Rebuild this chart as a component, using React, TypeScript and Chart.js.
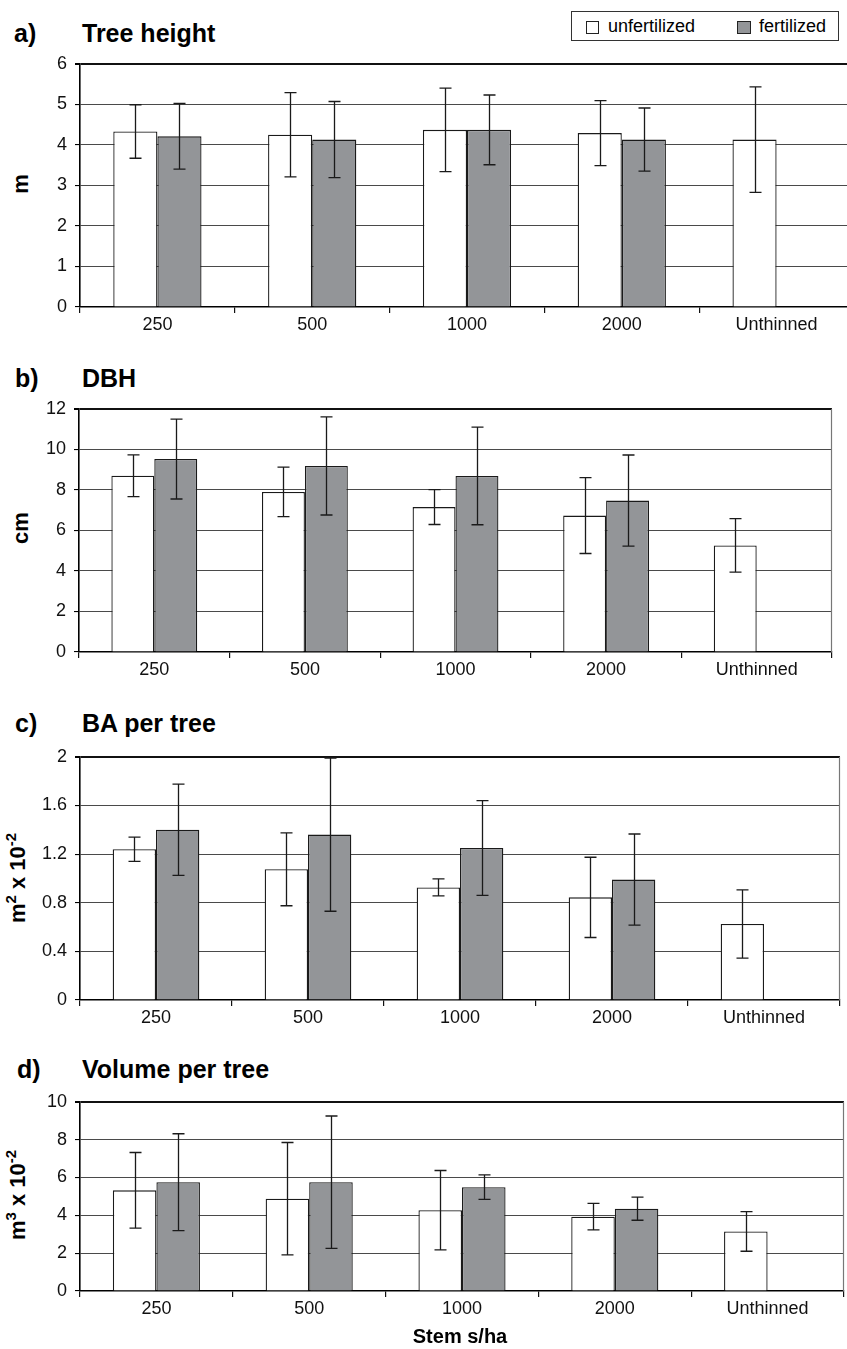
import React, { useEffect, useRef } from "react";
import { Chart, registerables } from "chart.js";

Chart.register(...registerables);

// ---------- DATA ----------
const categories = ["250", "500", "1000", "2000", "Unthinned"];

const heightUnfert = [4.33, 4.25, 4.37, 4.29, 4.13];
const heightUnfertErr = [0.66, 1.04, 1.03, 0.8, 1.3];
const heightFert = [4.21, 4.13, 4.37, 4.13, null];
const heightFertErr = [0.81, 0.94, 0.86, 0.78, null];

const dbhUnfert = [8.7, 7.9, 7.15, 6.73, 5.26];
const dbhUnfertErr = [1.03, 1.22, 0.86, 1.87, 1.32];
const dbhFert = [9.52, 9.18, 8.69, 7.47, null];
const dbhFertErr = [1.97, 2.42, 2.41, 2.25, null];

const baUnfert = [1.24, 1.075, 0.926, 0.844, 0.625];
const baUnfertErr = [0.1, 0.3, 0.07, 0.33, 0.28];
const baFert = [1.4, 1.36, 1.25, 0.99, null];
const baFertErr = [0.375, 0.63, 0.39, 0.375, null];

const volUnfert = [5.32, 4.88, 4.27, 3.93, 3.15];
const volUnfertErr = [2.0, 2.97, 2.1, 0.7, 1.05];
const volFert = [5.75, 5.75, 5.49, 4.35, null];
const volFertErr = [2.56, 3.5, 0.65, 0.61, null];

const seriesNames = ["unfertilized", "fertilized"];
const FONT = '"Liberation Sans", Arial, Helvetica, sans-serif';

// ---------- PLUGINS ----------
const errorBarPlugin = {
  id: "errorBars",
  afterDatasetsDraw(chart: any) {
    const ctx = chart.ctx;
    const y = chart.scales.y;
    chart.data.datasets.forEach((ds: any, di: number) => {
      const meta = chart.getDatasetMeta(di);
      const errs = ds.errors || [];
      meta.data.forEach((bar: any, i: number) => {
        const v = ds.data[i];
        const e = errs[i];
        if (v == null || e == null) return;
        const yTop = y.getPixelForValue(v + e);
        const yBot = y.getPixelForValue(v - e);
        const x = Math.round(bar.x) + 0.5;
        ctx.save();
        ctx.strokeStyle = "#1a1a1a";
        ctx.lineWidth = 1.3;
        ctx.beginPath();
        ctx.moveTo(x, yTop);
        ctx.lineTo(x, yBot);
        ctx.moveTo(x - 6, yTop);
        ctx.lineTo(x + 6, yTop);
        ctx.moveTo(x - 6, yBot);
        ctx.lineTo(x + 6, yBot);
        ctx.stroke();
        ctx.restore();
      });
    });
  },
};

const framePlugin = {
  id: "frame",
  afterDraw(chart: any) {
    const { ctx, chartArea } = chart;
    ctx.save();
    ctx.strokeStyle = "#777";
    ctx.lineWidth = 1.2;
    ctx.beginPath();
    ctx.moveTo(chartArea.right - 0.5, chartArea.top);
    ctx.lineTo(chartArea.right - 0.5, chartArea.bottom);
    ctx.stroke();
    ctx.restore();
  },
};

// ---------- PANEL ----------
type PanelProps = {
  top: number;
  bottom: number;
  left: number;
  right: number;
  yMax: number;
  yStep: number;
  unfert: (number | null)[];
  unfertErr: (number | null)[];
  fert: (number | null)[];
  fertErr: (number | null)[];
};

const PAD_TOP = 12;
const X_AXIS_H = 40;

function Panel(p: PanelProps) {
  const ref = useRef<HTMLCanvasElement | null>(null);
  const width = p.right + 8;
  const height = PAD_TOP + (p.bottom - p.top) + X_AXIS_H;

  useEffect(() => {
    if (!ref.current) return;
    const chart = new Chart(ref.current, {
      type: "bar",
      data: {
        labels: categories,
        datasets: [
          {
            label: seriesNames[0],
            data: p.unfert as any,
            errors: p.unfertErr,
            backgroundColor: "#ffffff",
            borderColor: "#1a1a1a",
            borderWidth: 1.3,
            barPercentage: 1,
            categoryPercentage: 0.57,
          } as any,
          {
            label: seriesNames[1],
            data: p.fert as any,
            errors: p.fertErr,
            backgroundColor: "#939598",
            borderColor: "#1a1a1a",
            borderWidth: 1.3,
            barPercentage: 1,
            categoryPercentage: 0.57,
          } as any,
        ],
      },
      options: {
        responsive: false,
        animation: false,
        devicePixelRatio: 1,
        layout: { padding: { top: PAD_TOP, right: width - p.right, left: 0, bottom: 0 } },
        plugins: {
          legend: { display: false },
          tooltip: { enabled: false },
          title: { display: false },
        },
        scales: {
          x: {
            offset: true,
            grid: {
              offset: true,
              drawOnChartArea: false,
              drawTicks: true,
              tickLength: 6,
              color: "#111",
              lineWidth: 1.2,
            },
            border: { display: true, color: "#000", width: 1.6 },
            ticks: {
              font: { family: FONT, size: 18 },
              color: "#111",
              padding: 1,
              maxRotation: 0,
              autoSkip: false,
            },
            afterFit: (scale: any) => {
              scale.height = X_AXIS_H;
            },
          },
          y: {
            min: 0,
            max: p.yMax,
            ticks: {
              stepSize: p.yStep,
              font: { family: FONT, size: 18 },
              color: "#111",
              padding: 8,
              callback: (v: any) => String(Math.round(Number(v) * 10) / 10),
            },
            grid: {
              color: (c: any) => (c.tick && Math.abs(c.tick.value - p.yMax) < 1e-9 ? "#111" : "#4a4a4a"),
              lineWidth: (c: any) => (c.tick && Math.abs(c.tick.value - p.yMax) < 1e-9 ? 2 : 1.1),
              tickColor: "#000",
              tickLength: 5,
              drawTicks: true,
            },
            border: { display: true, color: "#000", width: 1.6 },
            afterFit: (scale: any) => {
              scale.width = p.left;
            },
          },
        },
      },
      plugins: [errorBarPlugin, framePlugin],
    });
    return () => chart.destroy();
  }, []);

  return (
    <canvas
      ref={ref}
      width={width}
      height={height}
      style={{ position: "absolute", left: 0, top: p.top - PAD_TOP, width, height, display: "block" }}
    />
  );
}

function Title(props: { letter: string; text: string; baseline: number; lx: number }) {
  const top = props.baseline - 21.2;
  const st: React.CSSProperties = {
    position: "absolute",
    top,
    fontSize: 25,
    lineHeight: "25px",
    fontWeight: "bold",
    whiteSpace: "nowrap",
  };
  return (
    <>
      <div style={{ ...st, left: props.lx }}>{props.letter}</div>
      <div style={{ ...st, left: 82 }}>{props.text}</div>
    </>
  );
}

function YTitle(props: { cx: number; cy: number; children: React.ReactNode }) {
  return (
    <div
      style={{
        position: "absolute",
        left: props.cx,
        top: props.cy,
        width: 0,
        height: 0,
        transform: "rotate(-90deg)",
        transformOrigin: "0 0",
      }}
    >
      <div
        style={{
          position: "absolute",
          left: 0,
          top: 0,
          transform: "translate(-50%, -50%)",
          whiteSpace: "nowrap",
          fontSize: 22,
          lineHeight: "22px",
          fontWeight: "bold",
        }}
      >
        {props.children}
      </div>
    </div>
  );
}

const Sup = (props: { children: React.ReactNode }) => (
  <span style={{ fontSize: 15, position: "relative", top: -9 }}>{props.children}</span>
);

export default function App() {
  return (
    <div
      style={{
        position: "absolute",
        left: 0,
        top: 0,
        width: 847,
        height: 1349,
        overflow: "hidden",
        background: "#fff",
        fontFamily: FONT,
        color: "#000",
      }}
    >
      {/* Legend */}
      <div
        style={{
          position: "absolute",
          left: 571,
          top: 11,
          width: 268,
          height: 30,
          boxSizing: "border-box",
          border: "1.5px solid #333",
          background: "#fff",
        }}
      />
      <div style={{ position: "absolute", left: 586, top: 21, width: 13, height: 13, boxSizing: "border-box", border: "1.2px solid #222", background: "#fff" }} />
      <div style={{ position: "absolute", left: 608, top: 16.5, fontSize: 18, lineHeight: "18px", whiteSpace: "nowrap" }}>{seriesNames[0]}</div>
      <div style={{ position: "absolute", left: 737, top: 21, width: 14, height: 13, boxSizing: "border-box", border: "1.2px solid #222", background: "#939598" }} />
      <div style={{ position: "absolute", left: 759, top: 16.5, fontSize: 18, lineHeight: "18px", whiteSpace: "nowrap" }}>{seriesNames[1]}</div>

      {/* Panel a */}
      <Title letter="a)" text="Tree height" baseline={42} lx={14} />
      <YTitle cx={21} cy={184}>m</YTitle>
      <Panel top={57} bottom={307} left={80} right={854} yMax={6} yStep={1}
        unfert={heightUnfert} unfertErr={heightUnfertErr} fert={heightFert} fertErr={heightFertErr} />

      {/* Panel b */}
      <Title letter="b)" text="DBH" baseline={387} lx={15} />
      <YTitle cx={21} cy={528}>cm</YTitle>
      <Panel top={402} bottom={652} left={79} right={832} yMax={12} yStep={2}
        unfert={dbhUnfert} unfertErr={dbhUnfertErr} fert={dbhFert} fertErr={dbhFertErr} />

      {/* Panel c */}
      <Title letter="c)" text="BA per tree" baseline={732} lx={15} />
      <YTitle cx={19} cy={878}>
        m<Sup>2</Sup> x 10<Sup>-2</Sup>
      </YTitle>
      <Panel top={750} bottom={1000} left={80} right={840} yMax={2} yStep={0.4}
        unfert={baUnfert} unfertErr={baUnfertErr} fert={baFert} fertErr={baFertErr} />

      {/* Panel d */}
      <Title letter="d)" text="Volume per tree" baseline={1078} lx={17} />
      <YTitle cx={19} cy={1195}>
        m<Sup>3</Sup> x 10<Sup>-2</Sup>
      </YTitle>
      <Panel top={1095} bottom={1291} left={80} right={844} yMax={10} yStep={2}
        unfert={volUnfert} unfertErr={volUnfertErr} fert={volFert} fertErr={volFertErr} />

      <div
        style={{
          position: "absolute",
          left: 460,
          top: 1326,
          transform: "translateX(-50%)",
          fontSize: 20,
          lineHeight: "20px",
          fontWeight: "bold",
          whiteSpace: "nowrap",
        }}
      >
        Stem s/ha
      </div>
    </div>
  );
}
